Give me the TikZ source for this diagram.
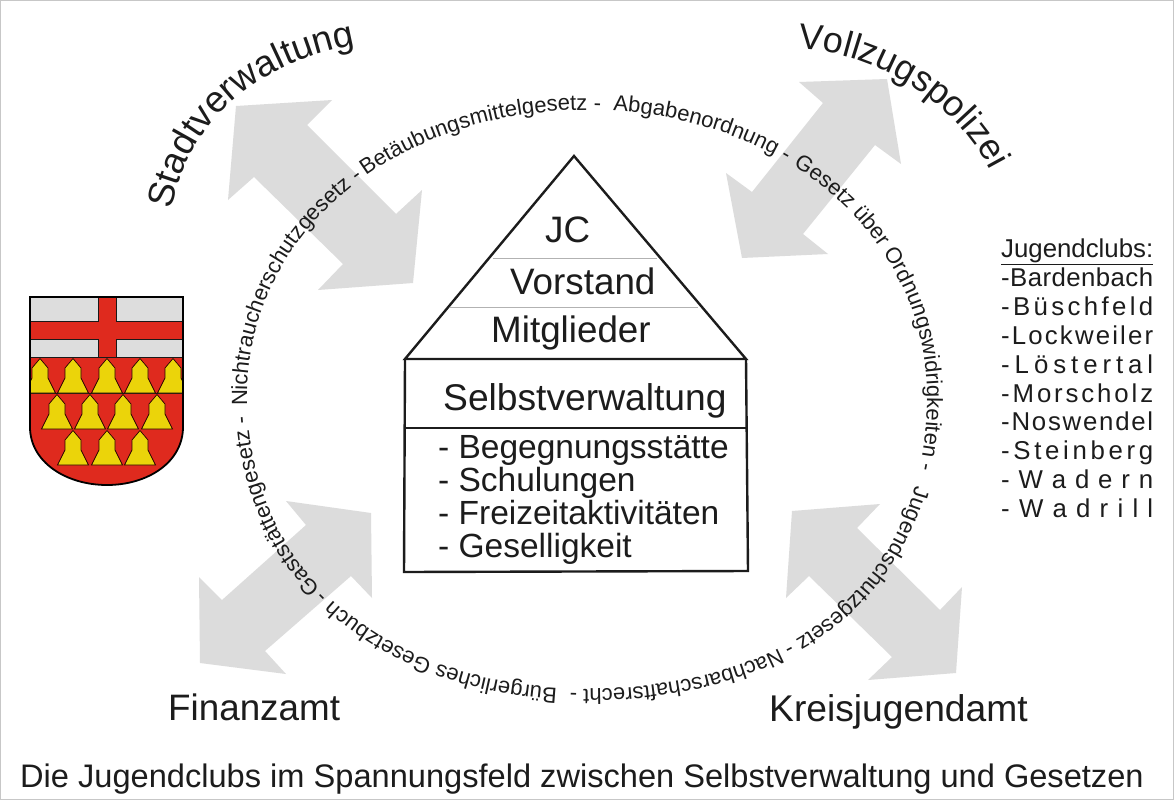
\documentclass[tikz,border=0pt]{standalone}
\usepackage{fontspec}
\setmainfont{Liberation Sans}
\usetikzlibrary{decorations.text}
\definecolor{ink}{HTML}{1C1C1C}
\definecolor{arrowgrey}{HTML}{DCDCDC}
\definecolor{shieldred}{HTML}{DF2A1E}
\definecolor{bellyellow}{HTML}{EBD40A}
\definecolor{silver}{HTML}{DDDDDD}
\newcommand{\fs}[1]{\fontsize{#1}{#1}\selectfont}
\newcommand{\ecx}{587}
\newcommand{\ecy}{396}
\newcommand{\erx}{340}
\newcommand{\ery}{286}
\pgfmathdeclarefunction{bulge}{1}{%
  \pgfmathparse{1+(sin(#1)>0?(cos(#1)>0?0.045:0.03):0.008)*sin(2*#1)*sin(2*#1)}}
\pgfmathdeclarefunction{ringdrop}{1}{%
  \pgfmathparse{(sin(#1)>0?7:0)*sin(#1)*sin(#1)*sin(#1)*sin(#1)}}
\newcommand{\lawarc}[3]{% start angle, end angle, text
  \path[decorate,decoration={text along path,text color=ink,
    text={|\fs{22}|#3}}]
    plot[domain=#1:#2,samples=80,variable=\t]
      ({\ecx+\erx*cos(\t)*bulge(\t)},{-(\ecy+\ery*sin(\t)*bulge(\t)+ringdrop(\t))});}
\newcommand{\bell}[2]{%
  \draw[bellshape] (#1,#2) -- ++(15.5,0) -- ++(-7.5,-15) -- ++(0,-10) -- ++(-8,-9.5) -- ++(-8,9.5) -- ++(0,10) -- ++(-7.5,15) -- cycle;}
\newcommand{\s}{\hfil}
\tikzset{
  bigarrow/.style={fill=arrowgrey,draw=none},
  housewall/.style={draw=ink,line width=2.4pt,line join=miter},
  floorline/.style={draw=black!30,line width=0.7pt},
  bigtext/.style={anchor=base west,inner sep=0pt,text=ink,font=\fs{36.8}},
  widetext/.style={anchor=base west,inner sep=0pt,text=ink,font=\fs{37.2}},
  listtext/.style={anchor=base west,inner sep=0pt,text=ink,font=\fs{33.5}},
  clubtext/.style={anchor=base west,inner sep=0pt,text=ink,font=\fs{25.8}},
  bellshape/.style={fill=bellyellow,draw=black!85!red,line width=0.7pt,line join=miter},
  heraldline/.style={draw=black!90,line width=0.9pt},
}
\begin{document}
\begin{tikzpicture}[x=1pt,y=-1pt]
\useasboundingbox (0,0) rectangle (1174,800);
\fill[white] (0,0) rectangle (1174,800);
\draw[black!22,line width=1.2pt] (0.5,0.5) rectangle (1173.5,799.5);

% grey double arrows
\fill[bigarrow] (236,106) -- (332,100) -- (307,125) -- (396,214) -- (422,190) -- (413,283) -- (318,290) -- (343,264) -- (254,177) -- (228,200) -- cycle;
\fill[bigarrow] (887,79) -- (799,82) -- (823,103) -- (752,192) -- (726,173) -- (742,258) -- (828,254) -- (803,234) -- (875,145) -- (901,164) -- cycle;
\fill[bigarrow] (371,513) -- (286,501) -- (306,525) -- (222,600) -- (199,577) -- (200,663) -- (286,674) -- (265,651) -- (351,576) -- (372,598) -- cycle;
\fill[bigarrow] (792,511) -- (880,504) -- (857,528) -- (940,610) -- (962,587) -- (956,673) -- (868,680) -- (892,657) -- (809,576) -- (786,598) -- cycle;

% house
\draw[floorline] (493,258) -- (657,258);
\draw[floorline] (450,307) -- (698,307);
\draw[housewall] (405,359) -- (574,156) -- (746,359) -- cycle;
\draw[housewall] (405,359) -- (404,572) -- (748,571) -- (746,359);
\draw[housewall] (405,428) -- (747,428);
\node[bigtext] (jc) at (545,242) {JC};
\node[bigtext] (vorstand) at (510,294) {Vorstand};
\node[bigtext] (mitglieder) at (491,342) {Mitglieder};
\node[widetext] (selbst) at (443,410) {Selbstverwaltung};
\node[listtext] (l1) at (438,458) {- Begegnungsstätte};
\node[listtext] (l2) at (438,491) {- Schulungen};
\node[listtext] (l3) at (438,524) {- Freizeitaktivitäten};
\node[listtext] (l4) at (438,557) {- Geselligkeit};

% corner labels
\node[bigtext] (finanz) at (168,720) {Finanzamt};
\node[widetext] (kreis) at (769,721) {Kreisjugendamt};
\node[anchor=base west,inner sep=0pt,text=ink,font=\fs{32.6}] (caption) at (20,787) {Die Jugendclubs im Spannungsfeld zwischen Selbstverwaltung und Gesetzen};

% club list
\node[clubtext] (c0) at (1001,257) {\underline{Jugendclubs:}};
\node[clubtext] (c1) at (1001,286) {\makebox[152pt][s]{-\s B\s a\s r\s d\s e\s n\s b\s a\s c\s h}};
\node[clubtext] (c2) at (1001,315) {\makebox[152pt][s]{-\s B\s ü\s s\s c\s h\s f\s e\s l\s d}};
\node[clubtext] (c3) at (1001,344) {\makebox[152pt][s]{-\s L\s o\s c\s k\s w\s e\s i\s l\s e\s r}};
\node[clubtext] (c4) at (1001,373) {\makebox[152pt][s]{-\s L\s ö\s s\s t\s e\s r\s t\s a\s l}};
\node[clubtext] (c5) at (1001,402) {\makebox[152pt][s]{-\s M\s o\s r\s s\s c\s h\s o\s l\s z}};
\node[clubtext] (c6) at (1001,430) {\makebox[152pt][s]{-\s N\s o\s s\s w\s e\s n\s d\s e\s l}};
\node[clubtext] (c7) at (1001,459) {\makebox[152pt][s]{-\s S\s t\s e\s i\s n\s b\s e\s r\s g}};
\node[clubtext] (c8) at (1001,488) {\makebox[152pt][s]{-\s W\s a\s d\s e\s r\s n}};
\node[clubtext] (c9) at (1001,517) {\makebox[152pt][s]{-\s W\s a\s d\s r\s i\s l\s l}};

% coat of arms
\begin{scope}
  \clip (30,297) -- (183,297) -- (183,427) .. controls (183,462) and (148,485) .. (107,485) .. controls (66,485) and (30,462) .. (30,427) -- cycle;
  \fill[shieldred] (30,297) rectangle (183,486);
  \fill[silver] (30,297) rectangle (98,321);
  \fill[silver] (116,297) rectangle (183,321);
  \fill[silver] (30,339) rectangle (98,357);
  \fill[silver] (116,339) rectangle (183,357);
  \draw[heraldline] (30,321) -- (98,321) -- (98,297);
  \draw[heraldline] (183,321) -- (116,321) -- (116,297);
  \draw[heraldline] (30,339) -- (98,339) -- (98,357);
  \draw[heraldline] (183,339) -- (116,339) -- (116,357);
  \draw[heraldline] (30,357.5) -- (183,357.5);
  \draw[heraldline] (30,393.5) -- (183,393.5);
  \bell{40}{393}\bell{73}{393}\bell{107}{393}\bell{140}{393}\bell{173}{393}
  \bell{57}{429}\bell{90}{429}\bell{123}{429}\bell{157}{429}
  \bell{73}{465}\bell{107}{465}\bell{140}{465}
\end{scope}
\draw[black,line width=1.8pt] (30,297) -- (183,297) -- (183,427) .. controls (183,462) and (148,485) .. (107,485) .. controls (66,485) and (30,462) .. (30,427) -- cycle;

% texts on the ring
\begin{scope}[y=1pt]
  \lawarc{139.5}{190}{Gaststättengesetz -}
  \lawarc{178}{240}{Nichtraucherschutzgesetz -}
  \lawarc{229.8}{285}{Betäubungsmittelgesetz -}
  \lawarc{274.4}{320}{Abgabenordnung -}
  \lawarc{307}{390}{Gesetz über Ordnungswidrigkeiten -}
  \lawarc{378}{430}{Jugendschutzgesetz -}
  \lawarc{417}{470}{Nachbarschaftsrecht -}
  \lawarc{455}{510}{Bürgerliches Gesetzbuch -}
  \path[decorate,decoration={text along path,text color=ink,text={|\fs{36.8}|Stadtverwaltung}}]
    (172,-210) .. controls (190,-115) and (262,-60) .. (364,-44);
  \path[decorate,decoration={text along path,text color=ink,text={|\fs{36}|Vollzugspolizei}}]
    (798,-49) .. controls (860,-50) and (952,-90) .. (994,-178);
\end{scope}
\end{tikzpicture}
\end{document}
